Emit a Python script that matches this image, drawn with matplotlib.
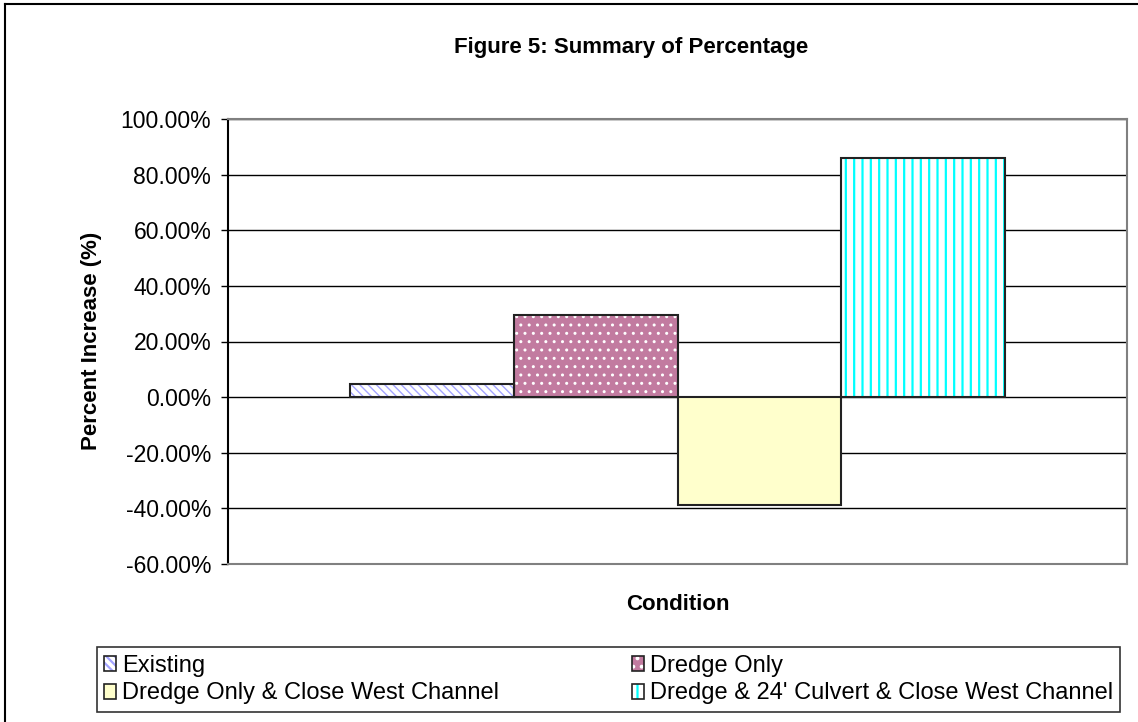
import numpy as np
import matplotlib
matplotlib.use('Agg')
import matplotlib.pyplot as plt
from matplotlib.patches import Patch
from matplotlib.legend_handler import HandlerTuple
from matplotlib.lines import Line2D

plt.rcParams['font.family'] = ['Liberation Sans', 'DejaVu Sans']

# data (percent)
conditions = ['Existing', 'Dredge Only', 'Dredge Only & Close West Channel',
              "Dredge & 24' Culvert & Close West Channel"]
pct_increase = [4.8, 29.7, -38.8, 85.9]
yticks = [-60, -40, -20, 0, 20, 40, 60, 80, 100]

# styles: (face, hatch, hatch colour)
styles = [('white', '\\\\\\\\', '#a3a3ff'),
          ('#c27ba0', '..', 'white'),
          ('#ffffcc', '', '#ffffcc'),
          ('white', '||', '#00ffff')]

fig = plt.figure(figsize=(11.38, 7.22), dpi=100)
ax = fig.add_axes([228/1138, 1-564/722, (1127-228)/1138, (564-119)/722])

w = 0.182
handles = []
for i, (name, val) in enumerate(zip(conditions, pct_increase)):
    face, hatch, hcol = styles[i]
    x = (i - 1.5) * w
    plt.rcParams['hatch.linewidth'] = 1.6 if i == 3 else 1.0
    ax.bar(x, val, width=w, color=face, edgecolor=hcol, hatch=hatch, linewidth=0, zorder=3)
    ax.bar(x, val, width=w, fill=False, edgecolor='#222222', linewidth=1.5, zorder=4)
    p1 = Patch(facecolor=face, edgecolor=hcol, hatch=hatch, linewidth=0)
    p2 = Patch(fill=False, edgecolor='#222222', linewidth=1.2)
    handles.append((p1, p2))

ax.set_xlim(-0.5, 0.5)
ax.set_ylim(-60, 100)
ax.set_yticks(yticks)
ax.set_yticklabels(['%.2f%%' % t for t in yticks], fontsize=16.5)
ax.set_xticks([])
ax.tick_params(axis='y', direction='out', length=5, width=1, pad=7)
ax.grid(axis='y', color='black', linewidth=1, zorder=1)
for s in ['top', 'right', 'bottom']:
    ax.spines[s].set_color('#808080')
    ax.spines[s].set_linewidth(1.5)
ax.spines['left'].set_color('black')
ax.spines['left'].set_linewidth(1.5)

fig.text(631/1138, 1-48/722, 'Figure 5: Summary of Percentage', ha='center', va='center',
         fontsize=16, fontweight='bold')
fig.text(92/1138, 1-341/722, 'Percent Increase (%)', ha='center', va='center',
         rotation=90, fontsize=16, fontweight='bold')
fig.text(678/1138, 1-604/722, 'Condition', ha='center', va='center',
         fontsize=16, fontweight='bold')

order = [0, 2, 1, 3]
leg = fig.legend([handles[k] for k in order], [conditions[k] for k in order],
                 handler_map={tuple: HandlerTuple(ndivide=1)},
                 ncol=2, loc='center', mode='expand',
                 bbox_to_anchor=(97/1138, 1-712/722, (1120-97)/1138, 65/722),
                 fontsize=17, frameon=True, fancybox=False, edgecolor='black',
                 handlelength=0.5, handleheight=0.6, handletextpad=0.25,
                 labelspacing=0.25, borderpad=0.3, borderaxespad=0)
leg.get_frame().set_linewidth(1.2)

# outer chart border (only left and top visible)
fig.add_artist(Line2D([5/1138, 5/1138], [0, 1-4/722], color='black', lw=1.5))
fig.add_artist(Line2D([5/1138, 1], [1-4/722, 1-4/722], color='black', lw=1.5))

fig.savefig('out.png', dpi=100)
